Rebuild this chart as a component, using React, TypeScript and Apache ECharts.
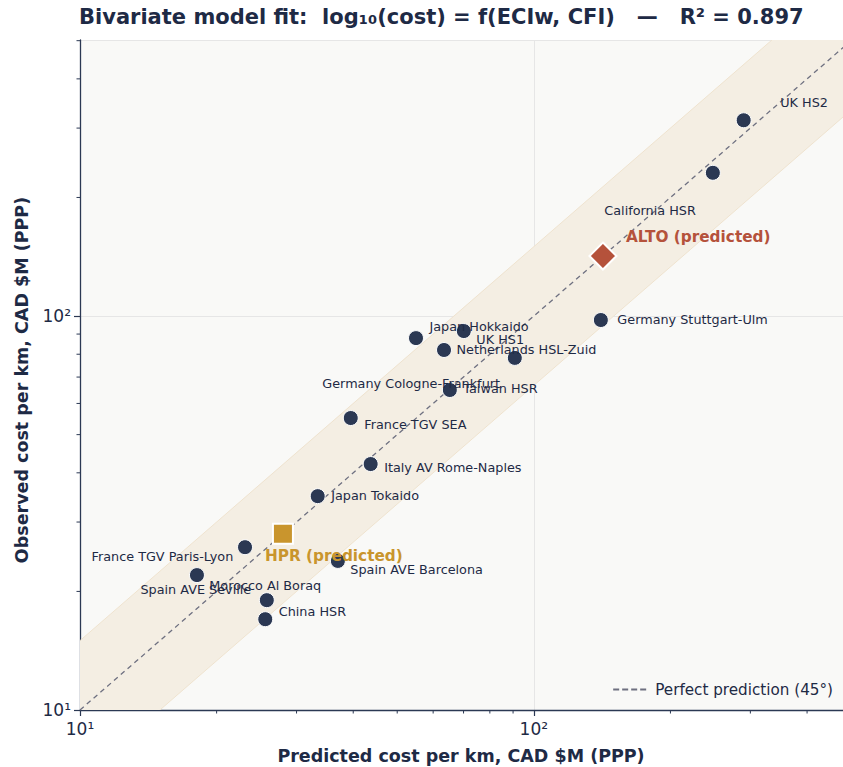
import React, { useEffect, useRef } from "react";
import * as echarts from "echarts";

// ---- data ----
const projects = [
  "UK HS2",
  "California HSR",
  "Germany Stuttgart-Ulm",
  "Japan Hokkaido",
  "UK HS1",
  "Netherlands HSL-Zuid",
  "Germany Cologne-Frankfurt",
  "Taiwan HSR",
  "France TGV SEA",
  "Italy AV Rome-Naples",
  "Japan Tokaido",
  "France TGV Paris-Lyon",
  "Spain AVE Seville",
  "Spain AVE Barcelona",
  "Morocco Al Boraq",
  "China HSR",
];
const predicted = [290, 248, 140.5, 55.0, 70.1, 63.4, 90.8, 65.3, 39.5, 43.7, 33.4, 23.1, 18.1, 37.0, 25.8, 25.6];
const observed = [314, 231, 97.7, 87.9, 91.6, 82.0, 78.3, 64.9, 55.1, 42.1, 34.9, 25.9, 22.0, 23.9, 19.0, 17.0];

const hprName = "HPR (predicted)";
const hprValue = [28.0, 28.0];
const altoName = "ALTO (predicted)";
const altoValue = [142, 142];

const bandFactor = 1.5;
const xRange = [10, 480];
const yRange = [10, 502];
const xMinorTicks = [20, 30, 40, 50, 60, 70, 80, 90, 200, 300, 400];
const yMinorTicks = [20, 30, 40, 50, 60, 70, 80, 90, 200, 300, 400, 500];

// ---- layout (label offsets in px from point centre: [dx to label left, dy to label middle]) ----
const labelOffsets: number[][] = [
  [37, -17],
  [-108, 38],
  [17, 0],
  [14, -11],
  [13, 9],
  [13, 0],
  [-192, 26],
  [14, -1],
  [14, 7],
  [14, 4],
  [14, 0],
  [-153, 10],
  [-56, 15],
  [13, 9],
  [-57, -14],
  [14, -7],
];

const NAVY = "#2b3853";
const TEXT = "#1e2a45";
const FONT = "DejaVu Sans, sans-serif";

function isPow10(v: number) {
  const l = Math.log10(v);
  return Math.abs(l - Math.round(l)) < 1e-6;
}
function supLabel(v: number) {
  const e = Math.round(Math.log10(v));
  const sup: Record<string, string> = { "0": "⁰", "1": "¹", "2": "²", "3": "³" };
  return "10" + String(e).split("").map((c) => sup[c] || c).join("");
}

export default function App() {
  const ref = useRef<HTMLDivElement>(null);
  useEffect(() => {
    if (!ref.current) return;
    const chart = echarts.init(ref.current, undefined, { renderer: "svg" });
    const dotSize = 15;
    const scatterData = projects.map((name, i) => ({
      name,
      value: [predicted[i], observed[i]],
      label: {
        show: true,
        formatter: name,
        position: [labelOffsets[i][0] + dotSize / 2, labelOffsets[i][1] + dotSize / 2],
        align: "left",
        verticalAlign: "middle",
        color: TEXT,
        fontSize: 12.8,
        fontFamily: FONT,
      },
    }));

    const option: any = {
      animation: false,
      backgroundColor: "#ffffff",
      textStyle: { fontFamily: FONT },
      title: {
        text: "Bivariate model fit:  log₁₀(cost) = f(ECIw, CFI)   —   R² = 0.897",
        left: 79,
        top: 6,
        padding: 0,
        textStyle: { fontFamily: FONT, fontSize: 21, fontWeight: "bold", color: TEXT },
      },
      legend: {
        right: 5,
        top: 677,
        data: [
          {
            name: "Perfect prediction (45°)",
            icon: "path://M0,0h6v2h-6z M9,0h6v2h-6z M18,0h6v2h-6z M27,0h6v2h-6z",
          },
        ],
        itemWidth: 33,
        itemHeight: 2,
        itemGap: 8,
        textStyle: { fontFamily: FONT, fontSize: 15.2, color: TEXT, padding: [0, 0, 0, 4] },
      },
      grid: {
        left: 80,
        right: 0,
        top: 40,
        bottom: 57,
        show: true,
        backgroundColor: "#f9f9f7",
        borderWidth: 0,
      },
      xAxis: {
        type: "log",
        logBase: 10,
        min: xRange[0],
        max: xRange[1],
        axisLine: { show: true, onZero: false, lineStyle: { color: NAVY, width: 1.3 } },
        axisTick: { show: true, length: 6, lineStyle: { color: NAVY, width: 1.2 } },
        axisLabel: {
          color: TEXT,
          fontSize: 17,
          fontFamily: FONT,
          margin: 10,
          showMaxLabel: false,
          formatter: (v: number) => (isPow10(v) ? supLabel(v) : ""),
        },
        splitLine: { show: true, lineStyle: { color: "#e6e6e6", width: 1 } },
        minorTick: { show: false },
      },
      yAxis: {
        type: "log",
        logBase: 10,
        min: yRange[0],
        max: yRange[1],
        axisLine: { show: true, onZero: false, lineStyle: { color: NAVY, width: 1.3 } },
        axisTick: { show: true, length: 6, lineStyle: { color: NAVY, width: 1.2 } },
        axisLabel: {
          color: TEXT,
          fontSize: 17,
          fontFamily: FONT,
          margin: 9,
          showMaxLabel: false,
          formatter: (v: number) => (isPow10(v) ? supLabel(v) : ""),
        },
        splitLine: { show: true, lineStyle: { color: "#e6e6e6", width: 1 } },
      },
      graphic: [
        {
          type: "text",
          x: 461,
          y: 756,
          style: {
            text: "Predicted cost per km, CAD $M (PPP)",
            fontFamily: FONT,
            fontSize: 17.5,
            fontWeight: "bold",
            fill: TEXT,
            align: "center",
            verticalAlign: "middle",
          },
        },
        {
          type: "text",
          x: 22,
          y: 380,
          rotation: Math.PI / 2,
          style: {
            text: "Observed cost per km, CAD $M (PPP)",
            fontFamily: FONT,
            fontSize: 17.5,
            fontWeight: "bold",
            fill: TEXT,
            align: "center",
            verticalAlign: "middle",
          },
        },
      ],
      series: [
        {
          type: "custom",
          name: "band",
          z: 1,
          clip: true,
          silent: true,
          data: [[xRange[0], xRange[1]]],
          renderItem: (params: any, api: any) => {
            const a = xRange[0] / 2;
            const b = xRange[1] * 2;
            const p1 = api.coord([a, a / bandFactor]);
            const p2 = api.coord([b, b / bandFactor]);
            const p3 = api.coord([b, b * bandFactor]);
            const p4 = api.coord([a, a * bandFactor]);
            return {
              type: "polygon",
              shape: { points: [p1, p2, p3, p4] },
              style: { fill: "#f4eee3", stroke: "#efe3cf", lineWidth: 1 },
            };
          },
        },
        {
          type: "line",
          name: "Perfect prediction (45°)",
          z: 3,
          symbol: "none",
          data: [
            [xRange[0], xRange[0]],
            [xRange[1] * 1.1, xRange[1] * 1.1],
          ],
          lineStyle: { color: "#6e7080", width: 1.3, type: [5, 4] },
          itemStyle: { color: "#6e7080" },
          clip: true,
        },
        {
          type: "custom",
          name: "xminor",
          z: 5,
          clip: false,
          silent: true,
          data: xMinorTicks.map((v) => [v, yRange[0]]),
          renderItem: (params: any, api: any) => {
            const p = api.coord([api.value(0), api.value(1)]);
            return {
              type: "line",
              shape: { x1: p[0], y1: p[1], x2: p[0], y2: p[1] + 3.5 },
              style: { stroke: NAVY, lineWidth: 1 },
            };
          },
        },
        {
          type: "custom",
          name: "yminor",
          z: 5,
          clip: false,
          silent: true,
          data: yMinorTicks.map((v) => [xRange[0], v]),
          renderItem: (params: any, api: any) => {
            const p = api.coord([api.value(0), api.value(1)]);
            return {
              type: "line",
              shape: { x1: p[0], y1: p[1], x2: p[0] - 3.5, y2: p[1] },
              style: { stroke: NAVY, lineWidth: 1 },
            };
          },
        },
        {
          type: "scatter",
          name: "Projects",
          z: 4,
          symbol: "circle",
          symbolSize: dotSize,
          itemStyle: { color: NAVY, borderColor: "#ffffff", borderWidth: 1, opacity: 1 },
          data: scatterData,
        },
        {
          type: "scatter",
          name: hprName,
          z: 6,
          symbol: "rect",
          symbolSize: 20,
          itemStyle: { color: "#c9952d", borderColor: "#ffffff", borderWidth: 2, opacity: 1 },
          data: [
            {
              name: hprName,
              value: hprValue,
              label: {
                show: true,
                formatter: hprName,
                position: [-17 + 10, 23 + 10],
                align: "left",
                verticalAlign: "middle",
                color: "#c9952d",
                fontSize: 15.3,
                fontWeight: "bold",
                fontFamily: FONT,
              },
            },
          ],
        },
        {
          type: "scatter",
          name: altoName,
          z: 6,
          symbol: "diamond",
          symbolSize: 27,
          itemStyle: { color: "#b5523b", borderColor: "#ffffff", borderWidth: 2, opacity: 1 },
          data: [
            {
              name: altoName,
              value: altoValue,
              label: {
                show: true,
                formatter: altoName,
                position: [24 + 13.5, -18 + 13.5],
                align: "left",
                verticalAlign: "middle",
                color: "#b5523b",
                fontSize: 15.3,
                fontWeight: "bold",
                fontFamily: FONT,
              },
            },
          ],
        },
      ],
    };
    chart.setOption(option);
    return () => chart.dispose();
  }, []);
  return (
    <div
      ref={ref}
      style={{ position: "fixed", left: 0, top: 0, width: 843, height: 767 }}
    />
  );
}
